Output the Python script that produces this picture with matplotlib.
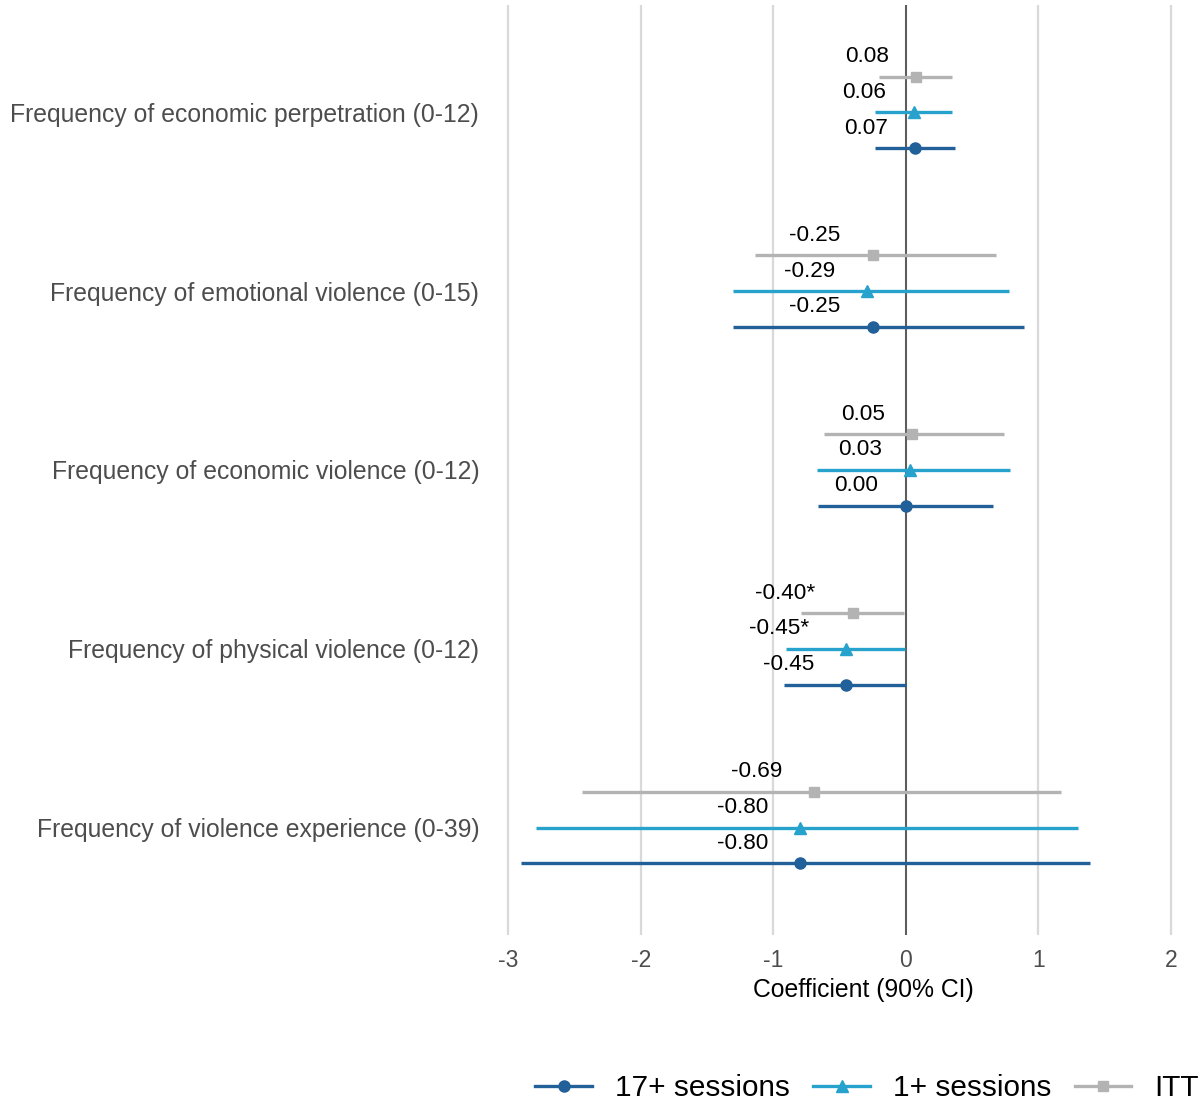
import matplotlib
matplotlib.use("Agg")
import matplotlib.pyplot as plt
from matplotlib.lines import Line2D

plt.rcParams["font.family"] = ["Liberation Sans", "DejaVu Sans"]

# Outcomes, listed top to bottom
outcomes = [
    "Frequency of economic perpetration (0-12)",
    "Frequency of emotional violence (0-15)",
    "Frequency of economic violence (0-12)",
    "Frequency of physical violence (0-12)",
    "Frequency of violence experience (0-39)",
]

# 17+ sessions
est_17 = [0.07, -0.25, 0.00, -0.45, -0.80]
lo_17 = [-0.23, -1.30, -0.66, -0.92, -2.90]
hi_17 = [0.37, 0.89, 0.66, 0.005, 1.39]
sig_17 = ["", "", "", "", ""]

# 1+ sessions
est_1 = [0.06, -0.29, 0.03, -0.45, -0.80]
lo_1 = [-0.23, -1.30, -0.67, -0.90, -2.79]
hi_1 = [0.35, 0.78, 0.79, -0.005, 1.30]
sig_1 = ["", "", "", "*", ""]

# Intention to treat
est_itt = [0.08, -0.25, 0.05, -0.40, -0.69]
lo_itt = [-0.20, -1.14, -0.62, -0.79, -2.44]
hi_itt = [0.35, 0.68, 0.74, -0.01, 1.17]
sig_itt = ["", "", "", "*", ""]

x_ticks = [-3, -2, -1, 0, 1, 2]

series = [
    ("17+ sessions", est_17, lo_17, hi_17, sig_17, "#22609a", "o", 8, -0.2),
    ("1+ sessions", est_1, lo_1, hi_1, sig_1, "#27a2cc", "^", 9, 0.0),
    ("ITT", est_itt, lo_itt, hi_itt, sig_itt, "#b3b3b3", "s", 7.5, 0.2),
]

W, H = 1204, 1101
fig = plt.figure(figsize=(W / 100, H / 100), dpi=100)
ax = fig.add_axes([475 / W, (H - 935) / H, (W - 475) / W, 930 / H])

n = len(outcomes)
ypos = [n - i for i in range(n)]

for xv in x_ticks:
    ax.axvline(xv, color="#d9d9d9", lw=1.6, zorder=0)
ax.axvline(0, color="#5a5a5a", lw=1.4, zorder=1)

texts = []
for name, est, lo, hi, sig, col, mk, ms, dy in series:
    for i in range(n):
        y = ypos[i] + dy
        ax.plot([lo[i], hi[i]], [y, y], color=col, lw=2.4, solid_capstyle="butt", zorder=2)
        ax.plot(est[i], y, marker=mk, color=col, ms=ms, zorder=3, linestyle="none")
        t = ax.annotate(f"{est[i]:.2f}{sig[i]}", (est[i], y), xytext=(0, 20),
                        textcoords="offset pixels", ha="center", va="center",
                        fontsize=16.2, color="black", zorder=4)
        texts.append(t)

ax.set_xlim(-3.25, 2.25)
ax.set_ylim(0.4, n + 0.6)
ax.set_xticks(x_ticks)
ax.set_xticklabels([str(v) for v in x_ticks])
ax.set_yticks(ypos)
ax.set_yticklabels(outcomes)
ax.tick_params(axis="both", length=0, labelcolor="#4d4d4d")
ax.tick_params(axis="x", pad=10, labelsize=16.5)
ax.tick_params(axis="y", pad=-3, labelsize=17.8)
for s in ax.spines.values():
    s.set_visible(False)

fig.text(863 / W, 1 - 990 / H, "Coefficient (90% CI)", fontsize=17.8,
         ha="center", va="center", color="black")

handles = [
    Line2D([0], [0], color=c, lw=2.4, marker=mk, ms=ms)
    for _, _, _, _, _, c, mk, ms, _ in series
]
fig.legend(handles, [s[0] for s in series], loc="center",
           bbox_to_anchor=(867 / W, 1 - 1088 / H),
           ncol=3, frameon=False, fontsize=21.4, handlelength=1.9, columnspacing=0.8,
           handletextpad=0.77, borderpad=0, borderaxespad=0)

# Shift each value label to the left by a multiple of its own width
fig.canvas.draw()
for t in texts:
    w = t.get_window_extent().width
    t.xyann = (-1.12 * w, 20)

fig.savefig("out.png", dpi=100)
